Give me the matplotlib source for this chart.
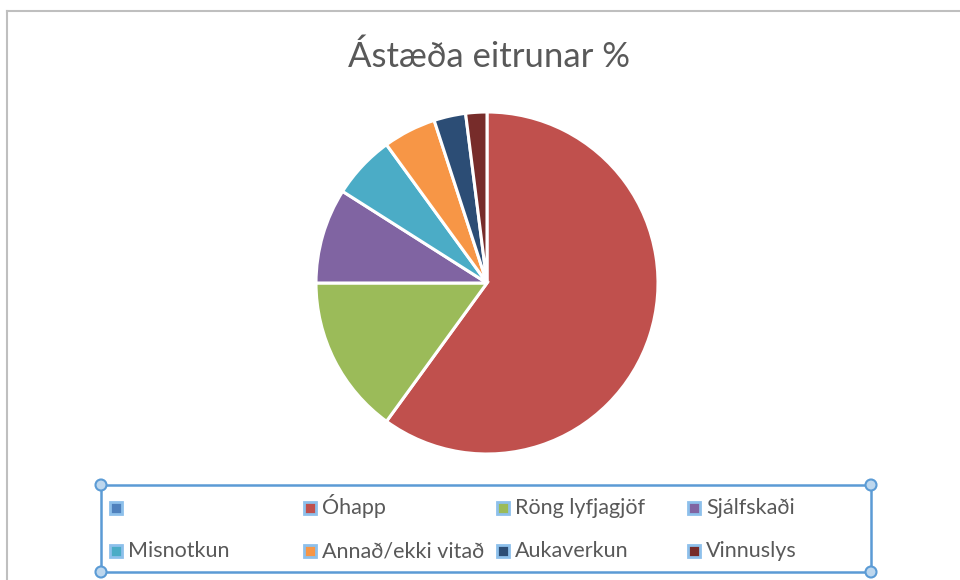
import matplotlib.pyplot as plt
from matplotlib.patches import Rectangle, Ellipse

# datos del grafico
categorias = ["", "Óhapp", "Röng lyfjagjöf", "Sjálfskaði",
              "Misnotkun", "Annað/ekki vitað", "Aukaverkun", "Vinnuslys"]
valores = [0, 60, 15, 9, 6, 5, 3, 2]
colores = ["#4F81BD", "#C0504D", "#9BBB59", "#8064A2",
           "#4BACC6", "#F79646", "#2C4D75", "#772C2A"]
titulo = "Ástæða eitrunar %"

W, H = 960, 580
fig = plt.figure(figsize=(W / 100, H / 100), dpi=100)
fig.patch.set_facecolor("white")

# borde gris del area del grafico
fig.add_artist(plt.Line2D([7 / W, 7 / W], [0, 1 - 11 / H], color="#BFBFBF", lw=1.5))
fig.add_artist(plt.Line2D([7 / W, 1], [1 - 11 / H, 1 - 11 / H], color="#BFBFBF", lw=1.5))

# torta
cx, cy, r = 487, 283, 171
ax = fig.add_axes([(cx - r) / W, (H - cy - r) / H, 2 * r / W, 2 * r / H])
ax.pie(valores, colors=colores, startangle=90, counterclock=False,
       wedgeprops=dict(edgecolor="white", linewidth=2.2))
ax.set_xlim(-1, 1)
ax.set_ylim(-1, 1)
ax.set_aspect("auto")
ax.axis("off")

fig.text(489 / W, 1 - 57 / H, titulo, ha="center", va="center",
         fontsize=25, color="#595959", family="Lato")

# leyenda hecha a mano (4 columnas, orden por filas)
azul = "#5B9BD5"
x0, y0, x1, y1 = 101, 485, 871, 572
fig.add_artist(Rectangle((x0 / W, 1 - y1 / H), (x1 - x0) / W, (y1 - y0) / H,
                         transform=fig.transFigure, fill=False, edgecolor=azul, lw=1.8))
for (px, py) in [(x0, y0), (x1, y0), (x0, y1), (x1, y1)]:
    fig.add_artist(Ellipse((px / W, 1 - py / H), 11 / W, 11 / H, transform=fig.transFigure,
                           facecolor="#BDD7EE", edgecolor=azul, lw=1.5))
col_x = [116, 310, 503, 694]
fila_y = [508, 551]
for i, (nombre, c) in enumerate(zip(categorias, colores)):
    mx = col_x[i % 4]
    my = fila_y[i // 4]
    s = 12
    fig.add_artist(Rectangle(((mx - s / 2) / W, 1 - (my + s / 2) / H), s / W, s / H,
                             transform=fig.transFigure, facecolor=c,
                             edgecolor="#8DC0EB", lw=2))
    fig.text((mx + 12) / W, 1 - (my + 6) / H, nombre, ha="left", va="baseline",
             fontsize=15.5, color="#595959", family="Lato")

fig.savefig("out.png", dpi=100)
